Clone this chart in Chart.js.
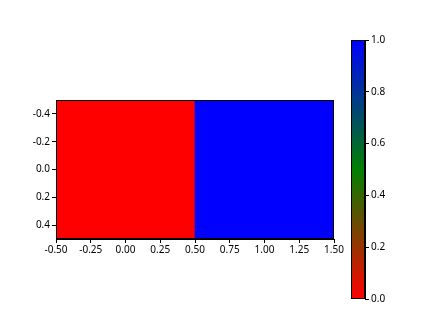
<!DOCTYPE html>
<html>
<head>
<meta charset="utf-8">
<script src="https://cdn.jsdelivr.net/npm/chart.js@4/dist/chart.umd.min.js"></script>
<style>
  html, body { margin: 0; padding: 0; background: #fff; }
  #wrap { position: relative; width: 448px; height: 336px; }
  canvas { position: absolute; left: 0; top: 0; }
</style>
</head>
<body>
<div id="wrap">
  <canvas id="main" width="448" height="336"></canvas>
  <canvas id="cbar" width="448" height="336"></canvas>
</div>
<script>
// ---- data ----
const columns = ['0', '1'];          // image columns (pixel centers at x = 0, 1)
const cellValues = [0, 1];           // one row, two cells
const rowExtent = [-0.5, 0.5];       // row 0 spans y from -0.5 to 0.5
const xTicks = [-0.5, -0.25, 0, 0.25, 0.5, 0.75, 1.0, 1.25, 1.5];
const yTicks = [-0.4, -0.2, 0.0, 0.2, 0.4];
const cbarTicks = [0.0, 0.2, 0.4, 0.6, 0.8, 1.0];
const cbarRange = [0, 1];

// colormap: red -> green -> blue
const cmapStops = [
  { pos: 0.0, rgb: [255, 0, 0] },
  { pos: 0.5, rgb: [0, 128, 0] },
  { pos: 1.0, rgb: [0, 0, 255] }
];
function cmap(v) {
  for (let i = 1; i < cmapStops.length; i++) {
    const a = cmapStops[i - 1], b = cmapStops[i];
    if (v <= b.pos) {
      const t = (v - a.pos) / (b.pos - a.pos);
      const c = a.rgb.map((x, k) => Math.round(x + (b.rgb[k] - x) * t));
      return `rgb(${c[0]},${c[1]},${c[2]})`;
    }
  }
  const l = cmapStops[cmapStops.length - 1].rgb;
  return `rgb(${l[0]},${l[1]},${l[2]})`;
}

const FONT = { family: "'Noto Sans', 'DejaVu Sans', sans-serif", size: 10 };

const framePlugin = {
  id: 'frame',
  afterDatasetsDraw(chart) {
    const a = chart.chartArea, ctx = chart.ctx;
    ctx.save();
    ctx.strokeStyle = '#000';
    ctx.lineWidth = 1;
    ctx.strokeRect(Math.round(a.left) + 0.5, Math.round(a.top) + 0.5,
                   Math.round(a.right - a.left) - 1, Math.round(a.bottom - a.top) - 1);
    ctx.restore();
  }
};

function fmt(d) { return v => (v < 0 ? '-' : '') + Math.abs(v).toFixed(d); }

// ---- main image ----
new Chart(document.getElementById('main'), {
  type: 'bar',
  data: {
    labels: columns,
    datasets: [{
      data: cellValues.map(() => rowExtent.slice()),
      backgroundColor: cellValues.map(cmap),
      borderWidth: 0,
      barPercentage: 1.0,
      categoryPercentage: 1.0,
      xAxisID: 'xc',
      yAxisID: 'y'
    }]
  },
  options: {
    responsive: false,
    animation: false,
    layout: { padding: { left: 0, top: 100, right: 114, bottom: 0 } },
    plugins: { legend: { display: false }, tooltip: { enabled: false } },
    scales: {
      xc: { type: 'category', display: false, offset: true },
      x: {
        type: 'linear', position: 'bottom', min: -0.5, max: 1.5, offset: false,
        afterBuildTicks: s => { s.ticks = xTicks.map(v => ({ value: v })); },
        afterFit: s => { s.height = 97; },
        grid: { offset: false, drawOnChartArea: false, drawTicks: true, tickLength: 4, color: '#000' },
        border: { display: true, color: '#000' },
        ticks: { color: '#000', font: FONT, padding: 1, maxRotation: 0, autoSkip: false, callback: fmt(2) }
      },
      y: {
        type: 'linear', reverse: true, min: rowExtent[0], max: rowExtent[1], offset: false,
        afterBuildTicks: s => { s.ticks = yTicks.map(v => ({ value: v })); },
        afterFit: s => { s.width = 56; },
        grid: { offset: false, drawOnChartArea: false, drawTicks: true, tickLength: 4, color: '#000' },
        border: { display: true, color: '#000' },
        ticks: { color: '#000', font: FONT, padding: 2, autoSkip: false, callback: fmt(1) }
      }
    }
  },
  plugins: [framePlugin]
});

// ---- colorbar ----
new Chart(document.getElementById('cbar'), {
  type: 'bar',
  data: {
    labels: ['cbar'],
    datasets: [{
      data: [cbarRange.slice()],
      backgroundColor: ctx => {
        const ch = ctx.chart, a = ch.chartArea;
        if (!a) return cmap(0.5);
        const ys = ch.scales.y;
        const g = ch.ctx.createLinearGradient(0, ys.getPixelForValue(cbarRange[0]), 0, ys.getPixelForValue(cbarRange[1]));
        cmapStops.forEach(s => g.addColorStop(s.pos, cmap(s.pos)));
        return g;
      },
      borderWidth: 0,
      barPercentage: 1.0,
      categoryPercentage: 1.0
    }]
  },
  options: {
    responsive: false,
    animation: false,
    layout: { padding: { left: 351, top: 40, right: 0, bottom: 37 } },
    plugins: { legend: { display: false }, tooltip: { enabled: false } },
    scales: {
      x: { type: 'category', display: false, offset: true },
      y: {
        type: 'linear', position: 'right', min: cbarRange[0], max: cbarRange[1],
        afterBuildTicks: s => { s.ticks = cbarTicks.map(v => ({ value: v })); },
        afterFit: s => { s.width = 83; },
        grid: { drawOnChartArea: false, drawTicks: true, tickLength: 4, color: '#000' },
        border: { display: true, color: '#000' },
        ticks: { color: '#000', font: FONT, padding: 2, autoSkip: false, callback: fmt(1) }
      }
    }
  },
  plugins: [framePlugin]
});
</script>
</body>
</html>
